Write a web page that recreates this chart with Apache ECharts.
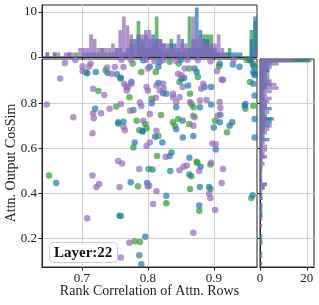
<!DOCTYPE html>
<html><head><meta charset="utf-8">
<script src="https://cdn.jsdelivr.net/npm/echarts@6/dist/echarts.min.js"></script>
<style>html,body{margin:0;padding:0;background:#fff}#c{width:319px;height:305px}</style>
</head><body><div id="c"></div>
<script>
// ---- scatter data [rankCorr, cosSim] ----
const purplePts = [[0.6465,0.796],[0.667,0.912],[0.674,0.982],[0.687,0.739],[0.701,0.967],[0.701,0.946],[0.711,0.966],[0.713,0.979],[0.717,0.867],[0.717,0.757],[0.718,0.735],[0.716,0.668],[0.729,0.757],[0.734,0.839],[0.738,0.961],[0.742,0.777],[0.745,0.934],[0.750,0.964],[0.759,0.799],[0.763,0.964],[0.764,0.889],[0.763,0.697],[0.765,0.682],[0.767,0.877],[0.768,0.859],[0.770,0.874],[0.775,0.889],[0.773,0.769],[0.798,0.611],[0.790,0.790],[0.788,0.805],[0.797,0.996],[0.800,0.957],[0.823,0.994],[0.843,0.991],[0.846,0.934],[0.851,0.927],[0.856,0.957],[0.876,0.994],[0.905,0.946],[0.912,0.907],[0.914,0.907],[0.798,0.874],[0.800,0.859],[0.813,0.881],[0.823,0.889],[0.824,0.867],[0.818,0.859],[0.812,0.826],[0.838,0.844],[0.838,0.829],[0.848,0.829],[0.843,0.807],[0.853,0.874],[0.864,0.807],[0.879,0.814],[0.889,0.817],[0.884,0.889],[0.881,0.867],[0.909,0.807],[0.910,0.781],[0.906,0.746],[0.871,0.739],[0.869,0.701],[0.813,0.679],[0.803,0.627],[0.898,0.622],[0.903,0.619],[0.793,0.724],[0.803,0.754],[0.827,0.562],[0.896,0.536],[0.716,0.479],[0.726,0.442],[0.722,0.428],[0.708,0.289],[0.755,0.544],[0.761,0.533],[0.757,0.428],[0.787,0.509],[0.800,0.431],[0.772,0.179],[0.759,0.113],[0.848,0.503],[0.854,0.518],[0.859,0.524],[0.914,0.509],[0.878,0.499],[0.912,0.446],[0.802,0.434],[0.813,0.409],[0.808,0.352],[0.893,0.398],[0.895,0.379],[0.902,0.326],[0.869,0.224],[0.690,0.995],[0.760,0.996],[0.810,0.990],[0.860,0.996],[0.895,0.990],[0.930,0.996],[0.774,0.996]];
const bluePts = [[0.708,0.936],[0.721,0.942],[0.720,0.777],[0.739,0.937],[0.753,0.931],[0.755,0.717],[0.759,0.916],[0.763,0.719],[0.775,0.897],[0.778,0.772],[0.780,0.627],[0.792,0.676],[0.793,0.994],[0.803,0.965],[0.816,0.965],[0.818,0.987],[0.851,0.912],[0.855,0.915],[0.871,0.957],[0.874,0.942],[0.909,0.979],[0.929,0.975],[0.939,0.965],[0.960,0.942],[0.962,0.927],[0.816,0.892],[0.823,0.847],[0.828,0.844],[0.843,0.784],[0.861,0.881],[0.879,0.784],[0.886,0.874],[0.896,0.874],[0.896,0.796],[0.948,0.799],[0.962,0.837],[0.962,0.732],[0.924,0.701],[0.928,0.717],[0.909,0.717],[0.910,0.751],[0.900,0.694],[0.869,0.656],[0.853,0.724],[0.843,0.686],[0.811,0.652],[0.822,0.627],[0.853,0.649],[0.903,0.596],[0.792,0.679],[0.806,0.802],[0.836,0.582],[0.833,0.566],[0.863,0.559],[0.661,0.446],[0.774,0.449],[0.799,0.446],[0.757,0.300],[0.796,0.206],[0.787,0.123],[0.790,0.083],[0.807,0.506],[0.834,0.499],[0.880,0.518],[0.863,0.484],[0.828,0.389],[0.879,0.428],[0.893,0.428],[0.878,0.346],[0.959,0.391],[0.955,0.996],[0.960,0.970],[0.962,0.935],[0.960,0.889],[0.947,0.791],[0.962,0.649],[0.850,0.996]];
const greenPts = [[0.706,0.940],[0.725,0.857],[0.736,0.949],[0.752,0.787],[0.755,0.712],[0.758,0.912],[0.772,0.829],[0.777,0.979],[0.787,0.682],[0.798,0.690],[0.778,0.604],[0.783,0.724],[0.790,0.942],[0.812,0.942],[0.833,0.987],[0.847,0.979],[0.863,0.957],[0.876,0.919],[0.908,0.967],[0.962,0.965],[0.955,0.994],[0.806,0.822],[0.848,0.897],[0.864,0.844],[0.866,0.799],[0.869,0.784],[0.948,0.777],[0.920,0.672],[0.902,0.724],[0.869,0.746],[0.863,0.709],[0.846,0.732],[0.838,0.717],[0.841,0.701],[0.816,0.656],[0.796,0.709],[0.820,0.750],[0.814,0.566],[0.874,0.541],[0.650,0.479],[0.785,0.431],[0.801,0.509],[0.759,0.299],[0.780,0.186],[0.788,0.183],[0.875,0.536],[0.895,0.529],[0.866,0.476],[0.828,0.356],[0.864,0.419],[0.895,0.419],[0.878,0.322],[0.957,0.379],[0.955,0.897],[0.960,0.791],[0.959,0.980],[0.950,0.996]];

// ---- top marginal histogram (counts per bin along x) ----
const topBinStart = 0.6447, topBinWidth = 0.005531;
const topPurple = [1,0,1,1,0,1,1,1,0,2,2,2,5,4,2,2,2,2,3,2,6,9,7,5,3,5,5,6,6,4,4,4,3,3,2,2,5,3,3,2,9,4,5,3,3,3,3,5,2,1,0,0,0,0,0,0,0,1];
const topBlue   = [1,0,1,0,0,0,1,0,0,0,1,1,1,0,1,0,1,0,1,2,2,1,2,3,4,5,4,5,4,5,4,4,3,2,3,3,2,4,2,2,4,11,6,4,4,2,2,1,1,1,1,1,1,1,0,0,4,9];
const topGreen  = [0,0,0,0,0,0,0,0,1,0,0,0,0,1,0,2,0,1,0,0,0,1,1,4,0,8,3,2,2,3,9,2,1,1,4,1,1,1,1,9,2,2,2,5,5,5,1,1,0,0,2,0,0,0,0,0,6,8];

// ---- right marginal histogram (counts per bin along y, listed from top) ----
const rightBinTop = 1.0007, rightBinWidth = 0.01537;
const rightPurple = [14,8,5,3,4,3,5,7,8,5,3,5,4,3,3,4,2,3,3,5,4,3,1,2,2,3,3,2,3,1,2,1,0,1,1,0,3,2,1,0,1,0,1,0,1,0,1,0,1,0,0,0,0,1,0,0,0,1,0,0];
const rightBlue   = [21,5,4,4,3,2,4,3,3,2,2,2,3,2,5,2,2,5,5,4,2,2,2,4,1,1,1,1,2,1,0,1,0,0,0,1,3,0,0,1,1,0,0,1,0,1,0,0,0,0,0,1,0,0,0,0,1,0,0,1];
const rightGreen  = [22,4,3,4,2,4,2,5,2,1,1,2,1,3,1,2,3,6,2,2,2,1,1,1,1,1,0,1,0,1,1,0,1,0,0,0,0,2,0,0,1,0,1,0,1,1,0,0,0,0,0,0,1,1,0,0,0,0,0,0];

// ---- ticks ----
const xTicks = [0.7, 0.8, 0.9];
const yTicks = [0.2, 0.4, 0.6, 0.8];
const topCountTicks = [0, 10];
const rightCountTicks = [0, 20];

const C = { purple: '#9467bd', blue: '#1f77b4', green: '#2ca02c' };
const FONT = 'Liberation Serif';
const X_MIN = 0.6394, X_MAX = 0.9656, Y_MIN = 0.071, Y_MAX = 0.9995;

function topData(arr){ return arr.map((c,i)=>[topBinStart+i*topBinWidth, topBinStart+(i+1)*topBinWidth, c]); }
function rightData(arr){ return arr.map((c,k)=>[rightBinTop-(k+1)*rightBinWidth, rightBinTop-k*rightBinWidth, c]); }

function vbar(color){
  return function(params, api){
    const c = api.value(2); if (!c) return null;
    const p0 = api.coord([api.value(0), c]);
    const p1 = api.coord([api.value(1), 0]);
    return {type:'rect', shape:{x:p0[0], y:p0[1], width:p1[0]-p0[0], height:p1[1]-p0[1]}, style:{fill:color, opacity:0.72}};
  };
}
function hbar(color){
  return function(params, api){
    const c = api.value(2); if (!c) return null;
    const p0 = api.coord([0, api.value(1)]);
    const p1 = api.coord([c, api.value(0)]);
    return {type:'rect', shape:{x:p0[0], y:p0[1], width:p1[0]-p0[0], height:p1[1]-p0[1]}, style:{fill:color, opacity:0.72}};
  };
}

const axisLine = {show:true, lineStyle:{color:'#222', width:1}};
const split = {show:true, lineStyle:{color:'#cfcfcf', width:1}};
const lbl = {fontFamily:FONT, fontSize:13, color:'#222'};

const chart = echarts.init(document.getElementById('c'), null, {renderer:'canvas'});
chart.setOption({
  animation:false,
  backgroundColor:'#fff',
  title:{text:'Layer:22', left:49, top:242, padding:[3,5,2,5], borderColor:'#cccccc', borderWidth:1, borderRadius:4, backgroundColor:'rgba(255,255,255,0.85)',
    textStyle:{fontFamily:FONT, fontWeight:'bold', fontSize:15, lineHeight:16, color:'#111'}},
  grid:[
    {left:42, top:59, width:215, height:208, show:true, borderColor:'#222', borderWidth:1, containLabel:false, outerBoundsMode:'none'},
    {left:42, top:5, width:215, height:52, show:true, borderColor:'#222', borderWidth:1, containLabel:false, outerBoundsMode:'none'},
    {left:260, top:59, width:54, height:208, show:true, borderColor:'#222', borderWidth:1, containLabel:false, outerBoundsMode:'none'}
  ],
  xAxis:[
    {gridIndex:0, type:'value', min:X_MIN, max:X_MAX, axisLine:axisLine,
      axisTick:{show:true, length:3.5, customValues:xTicks, lineStyle:{color:'#222'}},
      axisLabel:{customValues:xTicks, formatter:v=>v.toFixed(1), margin:5, ...lbl},
      splitLine:split,
      name:'Rank Correlation of Attn. Rows', nameLocation:'middle', nameGap:17.5, nameMoveOverlap:false,
      nameTextStyle:{fontFamily:FONT, fontSize:14, color:'#222', verticalAlign:'top'}},
    {gridIndex:1, type:'value', min:X_MIN, max:X_MAX, axisLine:axisLine,
      axisTick:{show:true, length:3, customValues:xTicks, lineStyle:{color:'#222'}},
      axisLabel:{show:false, customValues:xTicks}, splitLine:split},
    {gridIndex:2, type:'value', min:0, max:23.1, axisLine:axisLine,
      axisTick:{show:true, length:3.5, customValues:rightCountTicks, lineStyle:{color:'#222'}},
      axisLabel:{customValues:rightCountTicks, margin:5, ...lbl},
      splitLine:split}
  ],
  yAxis:[
    {gridIndex:0, type:'value', min:Y_MIN, max:Y_MAX, axisLine:axisLine,
      axisTick:{show:true, length:3.5, customValues:yTicks, lineStyle:{color:'#222'}},
      axisLabel:{customValues:yTicks, formatter:v=>v.toFixed(1), margin:5, ...lbl},
      splitLine:split,
      name:'Attn. Output CosSim', nameLocation:'middle', nameGap:24, nameMoveOverlap:false,
      nameTextStyle:{fontFamily:FONT, fontSize:14, color:'#222'}},
    {gridIndex:1, type:'value', min:0, max:11.55, axisLine:axisLine,
      axisTick:{show:true, length:3.5, customValues:topCountTicks, lineStyle:{color:'#222'}},
      axisLabel:{customValues:topCountTicks, margin:5, ...lbl},
      splitLine:split},
    {gridIndex:2, type:'value', min:Y_MIN, max:Y_MAX, axisLine:axisLine,
      axisTick:{show:true, length:3, customValues:yTicks, lineStyle:{color:'#222'}},
      axisLabel:{show:false, customValues:yTicks}, splitLine:split}
  ],
  series:[
    {type:'custom', xAxisIndex:1, yAxisIndex:1, renderItem:vbar(C.green), data:topData(topGreen), encode:{x:[0,1], y:2}, clip:true},
    {type:'custom', xAxisIndex:1, yAxisIndex:1, renderItem:vbar(C.blue), data:topData(topBlue), encode:{x:[0,1], y:2}, clip:true},
    {type:'custom', xAxisIndex:1, yAxisIndex:1, renderItem:vbar(C.purple), data:topData(topPurple), encode:{x:[0,1], y:2}, clip:true},
    {type:'custom', xAxisIndex:2, yAxisIndex:2, renderItem:hbar(C.green), data:rightData(rightGreen), encode:{y:[0,1], x:2}, clip:true},
    {type:'custom', xAxisIndex:2, yAxisIndex:2, renderItem:hbar(C.blue), data:rightData(rightBlue), encode:{y:[0,1], x:2}, clip:true},
    {type:'custom', xAxisIndex:2, yAxisIndex:2, renderItem:hbar(C.purple), data:rightData(rightPurple), encode:{y:[0,1], x:2}, clip:true},
    {type:'scatter', xAxisIndex:0, yAxisIndex:0, data:greenPts, symbolSize:6.5, itemStyle:{color:C.green, opacity:0.7}},
    {type:'scatter', xAxisIndex:0, yAxisIndex:0, data:bluePts, symbolSize:6.5, itemStyle:{color:C.blue, opacity:0.7}},
    {type:'scatter', xAxisIndex:0, yAxisIndex:0, data:purplePts, symbolSize:6.5, itemStyle:{color:C.purple, opacity:0.7}}
  ]
});
</script></body></html>
